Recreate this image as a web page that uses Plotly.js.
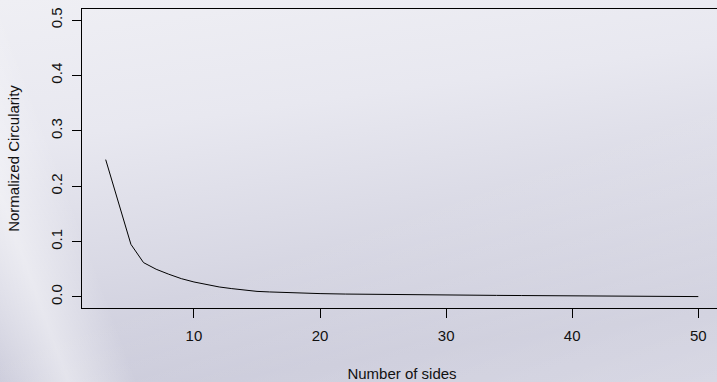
<!DOCTYPE html>
<html>
<head>
<meta charset="utf-8">
<script src="https://cdn.plot.ly/plotly-3.0.1.min.js"></script>
<style>
html, body { margin:0; padding:0; width:717px; height:382px; overflow:hidden; }
body {
  background:
    linear-gradient(70deg, rgba(255,255,255,0) 0%, rgba(255,255,255,0.45) 8%, rgba(255,255,255,0) 16%, rgba(255,255,255,0) 100%),
    linear-gradient(160deg, rgba(255,255,255,0) 55%, rgba(255,255,255,0.25) 100%),
    linear-gradient(172deg, #efeff4 0%, #e8e8f0 30%, #d8d8e4 60%, #c9c9d9 85%, #cbcbdb 100%);
}
#chart { width:722px; height:382px; }
</style>
</head>
<body>
<div id="chart"></div>
<script>
var sides = [3,4,5,6,7,8,9,10,11,12,13,14,15,16,17,18,19,20,22,24,26,28,30,32,34,36,38,40,42,44,46,48,50];
var circularity = [0.248,0.171,0.095,0.062,0.050,0.041,0.033,0.027,0.022,0.018,0.015,0.012,0.010,0.009,0.008,0.007,0.0065,0.006,0.0052,0.0046,0.0042,0.0038,0.0035,0.0031,0.0028,0.0025,0.0022,0.0019,0.0016,0.0013,0.0011,0.0008,0.0006];
var xTicks = [10,20,30,40,50];
var yTicks = [0,0.1,0.2,0.3,0.4,0.5];

var font = {family:'Liberation Sans, Arial, sans-serif', size:15, color:'#111'};
Plotly.newPlot('chart', [{
  x: sides, y: circularity, type:'scatter', mode:'lines',
  line:{color:'#000', width:1}, hoverinfo:'none'
}], {
  width:722, height:382,
  margin:{l:82, r:0, t:9, b:74},
  paper_bgcolor:'rgba(0,0,0,0)', plot_bgcolor:'rgba(0,0,0,0)',
  showlegend:false,
  font: font,
  xaxis:{
    range:[1.12,51.88], tickvals:xTicks, ticktext:xTicks.map(String),
    ticks:'outside', ticklen:9, tickcolor:'#000', showgrid:false, zeroline:false,
    showline:true, mirror:true, linecolor:'#000', linewidth:1, ticklabelstandoff:5,
    title:{text:'Number of sides', font:font, standoff:26}, tickfont:font
  },
  yaxis:{
    range:[-0.02,0.52], tickvals:yTicks, ticktext:yTicks.map(function(v){return v.toFixed(1);}),
    ticks:'outside', ticklen:9, tickcolor:'#000', showgrid:false, zeroline:false,
    showline:true, mirror:true, linecolor:'#000', linewidth:1, tickangle:-90, ticklabelstandoff:4,
    title:{text:'Normalized Circularity', font:font, standoff:24}, tickfont:font
  }
}, {staticPlot:true});
</script>
</body>
</html>
